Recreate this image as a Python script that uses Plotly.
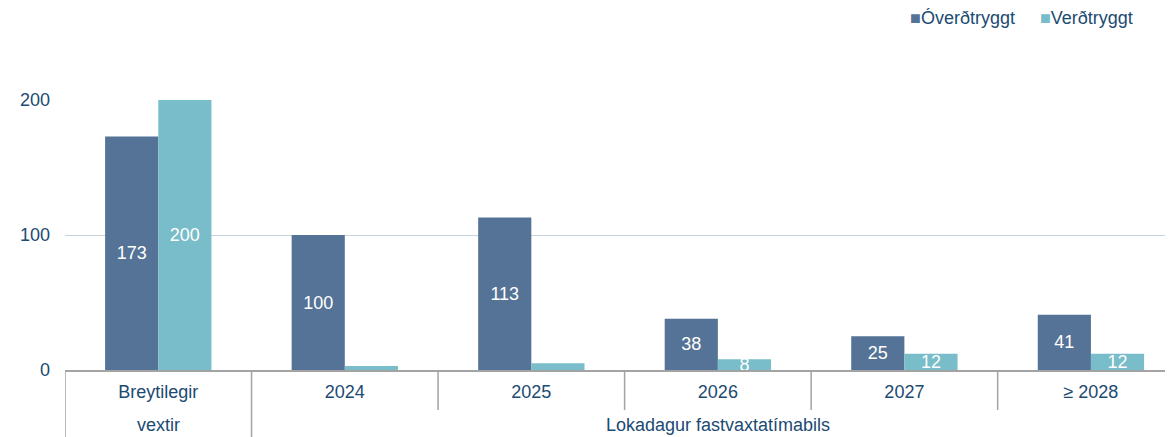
import plotly.graph_objects as go

CATEGORIES = ["Breytilegir", "2024", "2025", "2026", "2027", "≥ 2028"]
GROUPS = ["vextir", "Lokadagur fastvaxtatímabils"]
GROUP_SPANS = [(0, 0), (1, 5)]  # first and last category index of each group

SERIES = ["Óverðtryggt", "Verðtryggt"]
OVERDTRYGGT = [173, 100, 113, 38, 25, 41]
VERDTRYGGT = [200, 3, 5, 8, 12, 12]
OVERDTRYGGT_LABELS = ["173", "100", "113", "38", "25", "41"]
VERDTRYGGT_LABELS = ["200", "", "", "8", "12", "12"]

DARK = "#557396"
LIGHT = "#78bdc9"
TEXT = "#1b4a72"
AXIS = "#a3a3a3"
FONT = "Liberation Sans, Arial, sans-serif"

fig = go.Figure()

for name, vals, labels, color in [
    (SERIES[0], OVERDTRYGGT, OVERDTRYGGT_LABELS, DARK),
    (SERIES[1], VERDTRYGGT, VERDTRYGGT_LABELS, LIGHT),
]:
    fig.add_trace(go.Bar(
        name=name, x=CATEGORIES, y=vals,
        marker=dict(color=color, line=dict(width=0)),
        text=labels, textposition="inside", insidetextanchor="middle",
        textangle=0, cliponaxis=True,
        textfont=dict(color="white", size=18, family=FONT),
    ))

# group labels under the category labels, and divider lines between categories
annotations = []
shapes = []
for group, (first, last) in zip(GROUPS, GROUP_SPANS):
    annotations.append(dict(
        x=(first + last) / 2, xref="x", y=-0.204, yref="paper",
        text=group, showarrow=False, yanchor="middle",
        font=dict(size=18, color=TEXT, family=FONT),
    ))
group_starts = [first for first, _ in GROUP_SPANS]
for i in range(len(CATEGORIES)):
    bottom = -0.26 if i in group_starts else -0.148
    shapes.append(dict(
        type="line", xref="x", yref="paper",
        x0=i - 0.5, x1=i - 0.5, y0=0, y1=bottom,
        line=dict(color=AXIS, width=1.5),
    ))

# legend drawn as text with coloured squares
legend_text = (f"<span style='color:{DARK}'>■</span>{SERIES[0]}"
               f"     <span style='color:{LIGHT}'>■</span>{SERIES[1]}")
annotations.append(dict(
    x=0.9657, xref="paper", y=1.304, yref="paper",
    xanchor="right", yanchor="middle", showarrow=False,
    text=legend_text, font=dict(size=18, color=TEXT, family=FONT),
))

fig.update_layout(
    width=1165, height=429,
    margin=dict(l=57, r=0, t=92, b=67),
    paper_bgcolor="white", plot_bgcolor="white",
    font=dict(family=FONT, size=18, color=TEXT),
    barmode="group", bargap=0.43, bargroupgap=0,
    uniformtext=dict(minsize=18, mode="show"),
    showlegend=False,
    annotations=annotations,
    shapes=shapes,
    xaxis=dict(
        type="category", range=[-0.5, 5.44],
        showline=True, linecolor=AXIS, linewidth=2,
        ticks="", tickfont=dict(size=18, color=TEXT), showgrid=False,
        ticklabelstandoff=4,
    ),
    yaxis=dict(
        range=[0, 200], tickvals=[0, 100, 200], showgrid=True,
        gridcolor="#c9d3de", gridwidth=1, zeroline=False, showline=False,
        tickfont=dict(size=18, color=TEXT), ticklabelstandoff=14,
    ),
)

fig.write_html("out.html")
